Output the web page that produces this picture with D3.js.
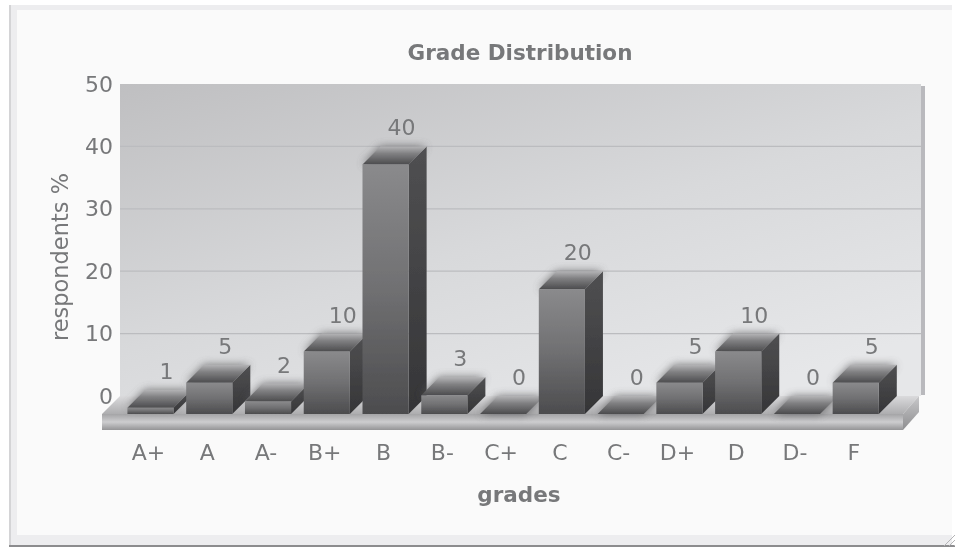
<!DOCTYPE html>
<html>
<head>
<meta charset="utf-8">
<script src="https://cdn.jsdelivr.net/npm/d3@7"></script>
<style>
  html, body { margin: 0; padding: 0; background: #fff; }
  text { font-family: "DejaVu Sans", sans-serif; fill: #77787a; }
</style>
</head>
<body>
<div id="chart"></div>
<script>
const grades = ['A+', 'A', 'A-', 'B+', 'B', 'B-', 'C+', 'C', 'C-', 'D+', 'D', 'D-', 'F'];
const respondents = [1, 5, 2, 10, 40, 3, 0, 20, 0, 5, 10, 0, 5];
const yTicks = [0, 10, 20, 30, 40, 50];

const width = 955;
const height = 548;
const depth = 18; // 3d offset of the bars and the floor

const svg = d3.select('#chart')
  .append('svg')
  .attr('width', width)
  .attr('height', height)
  .style('display', 'block');

const defs = svg.append('defs');

const addGradient = (id, stops, x2, y2) => {
  const g = defs.append('linearGradient')
    .attr('id', id)
    .attr('x1', 0).attr('y1', 0)
    .attr('x2', x2).attr('y2', y2);
  stops.forEach((s) => {
    g.append('stop').attr('offset', s[0]).attr('stop-color', s[1]);
  });
};

addGradient('wall', [[0, '#bfbfc1'], [0.55, '#d8d9db'], [1, '#e6e7e9']], 0.75, 1);
addGradient('front', [[0, '#8a8a8c'], [0.5, '#707072'], [1, '#4c4c4e']], 0, 1);
addGradient('side', [[0, '#505052'], [1, '#353537']], 0, 1);
addGradient('top', [[0, '#b4b4b6'], [0.4, '#808082'], [1, '#4c4c4e']], 0, 1);
addGradient('floorFront', [[0, '#a4a4a6'], [0.5, '#cdcdcf'], [1, '#949496']], 0, 1);
addGradient('floorTop', [[0, '#dadadc'], [1, '#adadaf']], 0, 1);
addGradient('floorSide', [[0, '#c8c8ca'], [1, '#8e8e90']], 0, 1);

defs.append('filter').attr('id', 'soft')
  .attr('x', '-5%').attr('y', '-5%').attr('width', '110%').attr('height', '110%')
  .append('feGaussianBlur').attr('stdDeviation', 0.55);
defs.append('filter').attr('id', 'glow')
  .attr('x', '-30%').attr('y', '-60%').attr('width', '160%').attr('height', '220%')
  .append('feGaussianBlur').attr('stdDeviation', 4.5);

// Panel
svg.append('rect').attr('width', width).attr('height', height).attr('fill', '#ffffff');
svg.append('rect').attr('x', 9).attr('y', 5).attr('width', 943).attr('height', 541).attr('fill', '#ededef');
svg.append('rect').attr('x', 17).attr('y', 10).attr('width', 935).attr('height', 525).attr('fill', '#fafafa');
svg.append('rect').attr('x', 9).attr('y', 5).attr('width', 2).attr('height', 541).attr('fill', '#d4d4d6');
svg.append('rect').attr('x', 9).attr('y', 545).attr('width', 946).attr('height', 2).attr('fill', '#8c8c8e');

// Scales
const x = d3.scaleBand()
  .domain(grades)
  .range([121.1, 885.1])
  .paddingInner(0.215)
  .paddingOuter(0.1075);

const y = d3.scaleLinear()
  .domain([0, 50])
  .range([396, 84]);

const plot = svg.append('g').attr('filter', 'url(#soft)');

const wallLeft = 120;
const wallRight = 921;
const floorLeft = wallLeft - depth;
const floorRight = wallRight - depth;
const baseY = y(0) + depth;
const floorH = 16;

// Back wall
plot.append('rect')
  .attr('x', wallRight).attr('y', y(50) + 2)
  .attr('width', 4).attr('height', y(0) - y(50) - 3)
  .attr('fill', '#b9b9bd');
plot.append('rect')
  .attr('x', wallLeft).attr('y', y(50))
  .attr('width', wallRight - wallLeft).attr('height', y(0) - y(50))
  .attr('fill', 'url(#wall)');

// Grid lines
plot.append('g')
  .selectAll('line')
  .data(yTicks.filter((d) => d > 0 && d < 50))
  .enter()
  .append('line')
  .attr('x1', wallLeft).attr('x2', wallRight)
  .attr('y1', (d) => y(d)).attr('y2', (d) => y(d))
  .attr('stroke', '#bbbcbf')
  .attr('stroke-width', 1.2);

// Floor
plot.append('polygon')
  .attr('points', [[floorLeft, baseY], [wallLeft, y(0)], [wallRight - 2, y(0)], [floorRight, baseY]].join(' '))
  .attr('fill', 'url(#floorTop)');
plot.append('rect')
  .attr('x', floorLeft).attr('y', baseY)
  .attr('width', floorRight - floorLeft).attr('height', floorH)
  .attr('fill', 'url(#floorFront)');
plot.append('polygon')
  .attr('points', [[floorRight, baseY], [wallRight - 2, y(0)], [wallRight - 2, y(0) + floorH], [floorRight, baseY + floorH]].join(' '))
  .attr('fill', 'url(#floorSide)');

// Bars
const bars = plot.append('g')
  .selectAll('g')
  .data(grades.map((g, i) => ({ grade: g, value: respondents[i] })))
  .enter()
  .append('g');

const bw = x.bandwidth();
const topPoints = (d) => {
  const l = x(d.grade);
  const t = y(d.value) + depth;
  return [[l, t], [l + depth, t - depth], [l + bw + depth, t - depth], [l + bw, t]].join(' ');
};

// soft halo round the top of each bar
bars.append('polygon')
  .attr('points', topPoints)
  .attr('fill', '#58585a')
  .attr('opacity', 0.8)
  .attr('filter', 'url(#glow)');

bars.filter((d) => d.value > 0)
  .append('polygon')
  .attr('points', (d) => {
    const r = x(d.grade) + bw;
    const t = y(d.value) + depth;
    return [[r, t], [r + depth, t - depth], [r + depth, baseY - depth], [r, baseY]].join(' ');
  })
  .attr('fill', 'url(#side)');

bars.append('polygon')
  .attr('points', topPoints)
  .attr('fill', 'url(#top)');

bars.filter((d) => d.value > 0)
  .append('rect')
  .attr('x', (d) => x(d.grade))
  .attr('y', (d) => y(d.value) + depth)
  .attr('width', bw)
  .attr('height', (d) => y(0) - y(d.value))
  .attr('fill', 'url(#front)');

// Value labels
bars.append('text')
  .attr('x', (d) => x(d.grade) + bw / 2 + 16)
  .attr('y', (d) => y(d.value) + depth - 29)
  .attr('text-anchor', 'middle')
  .attr('font-size', 22)
  .text((d) => d.value);

// Axes
const yAxis = d3.axisLeft(y).tickValues(yTicks).tickSize(0).tickPadding(0);
const yG = plot.append('g')
  .attr('transform', 'translate(' + (wallLeft - 7) + ',0)')
  .call(yAxis);
yG.select('.domain').remove();
yG.selectAll('text').attr('font-size', 22);
yG.attr('font-family', null);

const xAxis = d3.axisBottom(x).tickSize(0).tickPadding(0);
const xG = plot.append('g')
  .attr('transform', 'translate(-2,444.5)')
  .call(xAxis);
xG.select('.domain').remove();
xG.selectAll('text').attr('font-size', 22);
xG.attr('font-family', null);

// Titles
plot.append('text')
  .attr('x', 520).attr('y', 60)
  .attr('text-anchor', 'middle')
  .attr('font-size', 21.5)
  .attr('font-weight', 'bold')
  .text('Grade Distribution');

plot.append('text')
  .attr('x', 519).attr('y', 502)
  .attr('text-anchor', 'middle')
  .attr('font-size', 21.5)
  .attr('font-weight', 'bold')
  .text('grades');

plot.append('text')
  .attr('transform', 'translate(68,257) rotate(-90)')
  .attr('text-anchor', 'middle')
  .attr('font-size', 22.5)
  .text('respondents %');

// Resize grip
svg.append('g')
  .selectAll('line')
  .data([0, 5, 10])
  .enter()
  .append('line')
  .attr('x1', 955).attr('y1', (d) => 535 + d)
  .attr('x2', (d) => 944 + d).attr('y2', 546)
  .attr('stroke', '#b4b4b6')
  .attr('stroke-width', 1);
</script>
</body>
</html>
